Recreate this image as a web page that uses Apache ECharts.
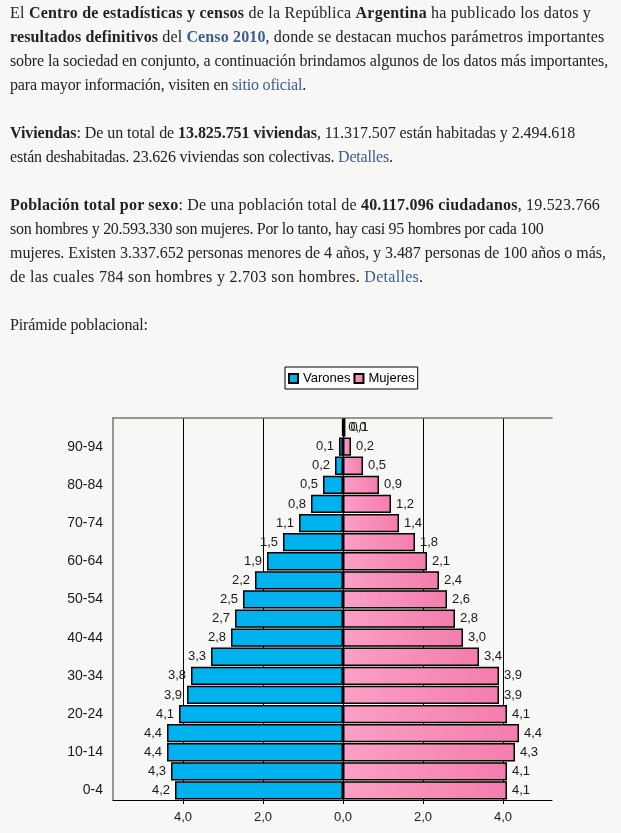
<!DOCTYPE html>
<html>
<head>
<meta charset="utf-8">
<script src="https://cdn.jsdelivr.net/npm/echarts@6/dist/echarts.min.js"></script>
<style>
  html, body { margin: 0; padding: 0; background: #f7f7f5; }
  #text {
    position: absolute; left: 10px; top: 1px; z-index: 2;
    font-family: "Liberation Serif", serif; font-size: 16px; line-height: 24px;
    color: #222; white-space: nowrap;
  }
  #text span { display: inline-block; }
  #text a { color: #3b5d8f; text-decoration: none; }
  #chart { position: absolute; left: 0; top: 0; width: 621px; height: 833px; }
</style>
</head>
<body>
<div id="text">
<span style="letter-spacing:0.22px">El <b>Centro de estadísticas y censos</b> de la República <b>Argentina</b> ha publicado los datos y</span><br>
<span style="letter-spacing:0.14px"><b>resultados definitivos</b> del <a href="#"><b>Censo 2010</b></a>, donde se destacan muchos parámetros importantes</span><br>
<span style="letter-spacing:-0.12px">sobre la sociedad en conjunto, a continuación brindamos algunos de los datos más importantes,</span><br>
<span style="letter-spacing:-0.18px">para mayor información, visiten en <a href="#">sitio oficial</a>.</span><br>
<br>
<span style="letter-spacing:-0.06px"><b>Viviendas</b>: De un total de <b>13.825.751 viviendas</b>, 11.317.507 están habitadas y 2.494.618</span><br>
<span style="letter-spacing:-0.19px">están deshabitadas. 23.626 viviendas son colectivas. <a href="#">Detalles</a>.</span><br>
<br>
<span style="letter-spacing:0.2px"><b>Población total por sexo</b>: De una población total de <b>40.117.096 ciudadanos</b>, 19.523.766</span><br>
<span style="letter-spacing:-0.3px">son hombres y 20.593.330 son mujeres. Por lo tanto, hay casi 95 hombres por cada 100</span><br>
<span style="letter-spacing:-0.04px">mujeres. Existen 3.337.652 personas menores de 4 años, y 3.487 personas de 100 años o más,</span><br>
<span style="letter-spacing:0.29px">de las cuales 784 son hombres y 2.703 son hombres. <a href="#">Detalles</a>.</span><br>
<br>
<span style="letter-spacing:-0.14px">Pirámide poblacional:</span>
</div>
<div id="chart"></div>
<script>
const categories = ['0-4','5-9','10-14','15-19','20-24','25-29','30-34','35-39','40-44','45-49',
  '50-54','55-59','60-64','65-69','70-74','75-79','80-84','85-89','90-94','95 y más'];
const varones = [4.2,4.3,4.4,4.4,4.1,3.9,3.8,3.3,2.8,2.7,2.5,2.2,1.9,1.5,1.1,0.8,0.5,0.2,0.1,0.02];
const mujeres = [4.1,4.1,4.3,4.4,4.1,3.9,3.9,3.4,3.0,2.8,2.6,2.4,2.1,1.8,1.4,1.2,0.9,0.5,0.2,0.06];
const xTickLabels = ['4,0','2,0','0,0','2,0','4,0'];

const fmt = v => Math.abs(v).toFixed(1).replace('.', ',');
const chart = echarts.init(document.getElementById('chart'), null, {renderer: 'canvas'});
const pink = new echarts.graphic.LinearGradient(0, 0, 1, 0, [
  {offset: 0, color: '#fb9fc6'}, {offset: 1, color: '#f47dae'}
]);
const lastIdx = varones.length - 1;
const labelFont = {fontFamily: 'Liberation Sans, Arial', fontSize: 13, color: '#1a1a1a'};

chart.setOption({
  backgroundColor: 'transparent',
  animation: false,
  legend: {
    data: ['Varones', 'Mujeres'],
    left: 285, top: 367,
    orient: 'horizontal',
    borderColor: '#000', borderWidth: 1,
    backgroundColor: '#fdfdfd',
    padding: [5, 3, 4, 3],
    itemWidth: 9, itemHeight: 9, itemGap: 3,
    icon: 'rect',
    textStyle: {fontFamily: 'Liberation Sans, Arial', fontSize: 13, color: '#000'}
  },
  grid: {left: 113, right: 69, top: 418, bottom: 33, containLabel: false},
  xAxis: [{
    type: 'value', position: 'bottom',
    min: -5.75, max: 5.225, minInterval: 2, maxInterval: 2,
    axisLine: {show: true, lineStyle: {color: '#000', width: 1}},
    axisTick: {show: true, length: 4, lineStyle: {color: '#000'}},
    axisLabel: {
      ...labelFont, margin: 11, showMinLabel: false, showMaxLabel: false,
      formatter: v => fmt(v)
    },
    splitLine: {show: true, showMinLine: false, showMaxLine: false, lineStyle: {color: '#000', width: 1}}
  }, {
    type: 'value', position: 'top',
    min: -5.75, max: 5.225,
    axisLine: {show: true, lineStyle: {color: '#7d7672', width: 1.5}},
    axisTick: {show: false}, axisLabel: {show: false}, splitLine: {show: false}
  }],
  yAxis: {
    type: 'category', data: categories,
    axisLine: {show: true, onZero: false, lineStyle: {color: '#7d7672', width: 1.5}},
    axisTick: {show: false},
    axisLabel: {...labelFont, fontSize: 14, interval: 1, margin: 10}
  },
  series: [{
    name: 'Varones', type: 'bar', stack: 'p', barCategoryGap: '4%',
    data: varones.map((v, i) => i === lastIdx ? {value: -v, label: {position: 'right'}} : -v),
    itemStyle: {color: '#00b3ef', borderColor: '#000', borderWidth: 1.5},
    label: {show: true, position: 'left', distance: 5, ...labelFont, formatter: p => fmt(p.value)}
  }, {
    name: 'Mujeres', type: 'bar', stack: 'p', barCategoryGap: '4%',
    data: mujeres,
    itemStyle: {color: pink, borderColor: '#000', borderWidth: 1.5},
    label: {show: true, position: 'right', distance: 5, ...labelFont, formatter: p => fmt(p.value)}
  }]
});
</script>
</body>
</html>
